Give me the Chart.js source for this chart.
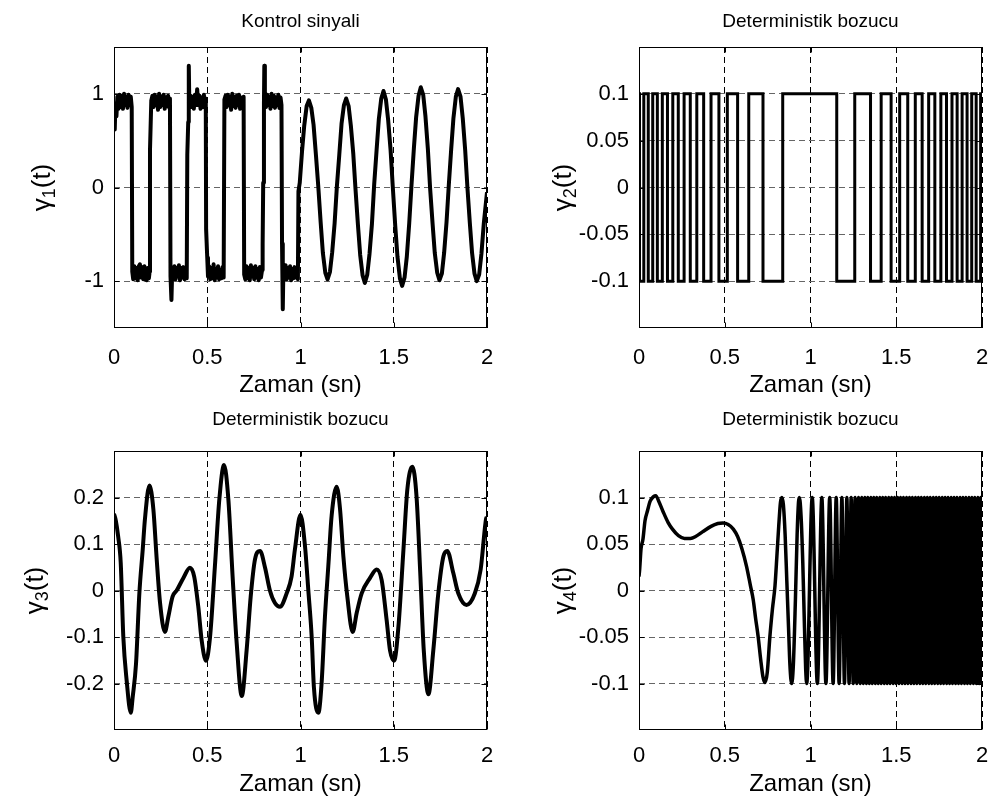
<!DOCTYPE html>
<html>
<head>
<meta charset="utf-8">
<script src="https://cdn.jsdelivr.net/npm/chart.js@4.4.1/dist/chart.umd.min.js"></script>
<style>
  html, body { margin: 0; padding: 0; background: #fff; }
  body { width: 994px; height: 809px; position: relative; overflow: hidden; }
  canvas { position: absolute; }
</style>
</head>
<body>
<canvas id="c1"></canvas>
<canvas id="c2"></canvas>
<canvas id="c3"></canvas>
<canvas id="c4"></canvas>
<script>
(function () {
    "use strict";

    // Axis text
    const xTicks = [0, 0.5, 1, 1.5, 2];
    const xTickLabels = ["0", "0.5", "1", "1.5", "2"];
    const xLabel = "Zaman (sn)";
    const titles = ["Kontrol sinyali", "Deterministik bozucu", "Deterministik bozucu", "Deterministik bozucu"];
    const yTicks1 = [-1, 0, 1];
    const yTickLabels1 = ["-1", "0", "1"];
    const yTicksSmall = [-0.1, -0.05, 0, 0.05, 0.1];
    const yTickLabelsSmall = ["-0.1", "-0.05", "0", "0.05", "0.1"];
    const yTicks3 = [-0.2, -0.1, 0, 0.1, 0.2];
    const yTickLabels3 = ["-0.2", "-0.1", "0", "0.1", "0.2"];

    // gamma1: control signal [t, value]
    const gamma1 = [
        [0.000,0.70],[0.004,0.62],[0.008,0.90],[0.013,0.76],[0.018,0.97],[0.024,0.84],[0.030,0.99],[0.036,0.86],
        [0.042,0.98],[0.048,0.84],[0.054,1.00],[0.060,0.88],[0.066,0.97],[0.072,0.85],[0.078,0.99],[0.084,0.88],
        [0.090,0.97],[0.095,0.86],
        [0.098,-0.90],[0.103,-0.98],[0.109,-0.84],[0.115,-0.97],[0.121,-0.86],[0.127,-0.99],[0.133,-0.84],[0.139,-0.82],
        [0.145,-0.96],[0.151,-0.85],[0.157,-0.98],[0.163,-0.84],[0.169,-0.95],[0.175,-0.99],[0.181,-0.86],[0.187,-0.97],
        [0.191,-0.90],
        [0.193,0.40],[0.200,0.93],[0.206,0.98],[0.212,0.86],[0.218,0.99],[0.224,0.88],[0.230,0.97],[0.236,0.83],
        [0.242,1.00],[0.248,0.86],[0.254,0.97],[0.260,0.88],[0.266,0.99],[0.272,0.84],[0.278,0.96],[0.284,0.87],
        [0.290,0.98],[0.296,0.85],[0.300,0.95],
        [0.303,-0.95],[0.308,-1.20],[0.312,-0.90],[0.318,-0.97],[0.324,-0.84],[0.330,-0.98],[0.336,-0.86],[0.342,-0.95],
        [0.348,-0.83],[0.354,-0.99],[0.360,-0.86],[0.366,-0.96],[0.372,-0.85],[0.378,-0.98],[0.384,-0.87],[0.390,-0.97],
        [0.393,0.35],[0.398,0.70],[0.401,1.30],[0.404,0.90],[0.410,0.98],[0.416,0.86],[0.422,0.97],[0.428,0.84],
        [0.434,0.99],[0.440,0.88],[0.446,1.05],[0.452,0.88],[0.458,0.98],[0.464,0.84],[0.470,0.96],[0.476,0.86],
        [0.482,0.99],[0.488,0.85],[0.492,0.95],
        [0.494,-0.45],[0.500,-0.75],[0.504,-0.95],[0.510,-0.84],[0.516,-0.98],[0.522,-0.86],[0.528,-0.97],[0.534,-0.82],
        [0.540,-0.99],[0.546,-0.87],[0.552,-0.96],[0.558,-0.84],[0.564,-0.98],[0.570,-0.88],[0.576,-0.97],[0.582,-0.85],
        [0.588,-0.96],
        [0.592,0.94],[0.598,0.98],[0.604,0.86],[0.610,0.99],[0.616,0.88],[0.622,0.97],[0.628,0.83],[0.634,1.00],
        [0.640,0.87],[0.646,0.97],[0.652,0.85],[0.658,0.98],[0.664,0.88],[0.670,0.99],[0.676,0.84],[0.682,0.96],
        [0.688,0.87],[0.695,0.97],
        [0.698,-0.93],[0.704,-0.98],[0.710,-0.84],[0.716,-0.97],[0.722,-0.86],[0.728,-0.99],[0.734,-0.83],[0.740,-0.95],
        [0.746,-0.86],[0.752,-0.98],[0.758,-0.84],[0.764,-0.96],[0.770,-0.87],[0.776,-0.99],[0.782,-0.85],[0.788,-0.96],
        [0.794,-0.88],
        [0.797,-0.60],[0.800,0.05],[0.804,0.90],[0.806,1.30],[0.809,0.95],[0.815,0.86],[0.821,0.99],[0.827,0.88],
        [0.833,0.97],[0.839,0.84],[0.845,1.00],[0.851,0.87],[0.857,0.98],[0.863,0.85],[0.869,0.96],[0.875,0.88],
        [0.881,0.99],[0.887,0.85],[0.893,0.96],[0.898,0.88],
        [0.901,-0.60],[0.905,-1.30],[0.908,-0.90],[0.914,-0.97],[0.920,-0.83],[0.926,-0.98],[0.932,-0.86],[0.938,-0.96],
        [0.944,-0.84],[0.950,-0.99],[0.956,-0.87],[0.962,-0.97],[0.968,-0.85],[0.974,-0.96],[0.980,-0.88],[0.986,-0.98],
        [0.989,-0.04],[0.996,0.05],
        [1.008,0.38],[1.020,0.66],[1.033,0.87],[1.045,0.93],[1.058,0.85],[1.070,0.67],[1.083,0.34],[1.095,0.02],
        [1.108,-0.37],[1.120,-0.70],[1.133,-0.91],[1.145,-0.98],[1.158,-0.90],[1.170,-0.69],[1.183,-0.38],[1.195,0.01],
        [1.208,0.35],[1.220,0.68],[1.233,0.88],[1.245,0.95],[1.258,0.87],[1.270,0.66],[1.283,0.36],[1.295,-0.02],
        [1.308,-0.40],[1.320,-0.72],[1.333,-0.94],[1.345,-1.02],[1.358,-0.93],[1.370,-0.71],[1.383,-0.39],[1.395,0.03],
        [1.408,0.40],[1.420,0.73],[1.433,0.95],[1.445,1.03],[1.458,0.94],[1.470,0.72],[1.483,0.40],[1.495,0.00],
        [1.508,-0.41],[1.520,-0.74],[1.533,-0.97],[1.545,-1.05],[1.558,-0.96],[1.570,-0.74],[1.583,-0.38],[1.595,0.02],
        [1.608,0.42],[1.620,0.75],[1.633,0.98],[1.645,1.07],[1.658,0.99],[1.670,0.76],[1.683,0.41],[1.695,-0.01],
        [1.708,-0.38],[1.720,-0.70],[1.733,-0.91],[1.745,-0.99],[1.758,-0.92],[1.770,-0.70],[1.783,-0.37],[1.795,0.02],
        [1.808,0.41],[1.820,0.74],[1.833,0.97],[1.845,1.05],[1.858,0.97],[1.870,0.74],[1.883,0.40],[1.895,0.00],
        [1.908,-0.38],[1.920,-0.70],[1.933,-0.92],[1.945,-1.00],[1.958,-0.93],[1.970,-0.71],[1.983,-0.38],[2.000,-0.05]
    ];

    // gamma2: switching square wave, level holds from each time onward
    const gamma2Times = [
        0.000, 0.003, 0.028, 0.054, 0.080, 0.107, 0.136, 0.166, 0.197, 0.229, 0.263,
        0.299, 0.337, 0.377, 0.420, 0.466, 0.515, 0.575, 0.640, 0.723, 0.838,
        1.153, 1.258, 1.350, 1.412, 1.470, 1.520, 1.567, 1.611, 1.651, 1.689,
        1.725, 1.760, 1.793, 1.825, 1.855, 1.884, 1.913, 1.940, 1.966, 1.992, 2.000
    ];
    const gamma2Levels = [
        0.1, -0.1, 0.1, -0.1, 0.1, -0.1, 0.1, -0.1, 0.1, -0.1, 0.1,
        -0.1, 0.1, -0.1, 0.1, -0.1, 0.1, -0.1, 0.1, -0.1, 0.1,
        -0.1, 0.1, -0.1, 0.1, -0.1, 0.1, -0.1, 0.1, -0.1, 0.1,
        -0.1, 0.1, -0.1, 0.1, -0.1, 0.1, -0.1, 0.1, -0.1, 0.1, 0.1
    ];

    // gamma3: periodic disturbance [t, value]
    const gamma3 = [
        [0.000,0.165],[0.010,0.150],[0.022,0.117],[0.036,0.060],[0.050,-0.100],[0.068,-0.194],[0.090,-0.263],
        [0.100,-0.230],[0.118,-0.158],[0.136,-0.006],[0.154,0.088],[0.166,0.154],[0.190,0.226],[0.211,0.175],
        [0.229,0.067],[0.247,-0.027],[0.273,-0.089],[0.291,-0.057],[0.314,-0.013],[0.336,0.000],[0.372,0.027],
        [0.407,0.049],[0.430,0.030],[0.452,-0.035],[0.470,-0.107],[0.493,-0.151],[0.515,-0.100],[0.541,0.052],
        [0.565,0.197],[0.590,0.270],[0.613,0.197],[0.636,0.030],[0.658,-0.114],[0.685,-0.227],[0.711,-0.129],
        [0.733,-0.013],[0.756,0.067],[0.783,0.085],[0.810,0.049],[0.836,0.000],[0.863,-0.027],[0.890,-0.035],
        [0.926,-0.006],[0.952,0.030],[0.970,0.088],[1.000,0.163],
        [1.024,0.096],[1.042,0.000],[1.060,-0.100],[1.072,-0.209],[1.096,-0.263],[1.113,-0.200],[1.131,-0.057],
        [1.149,0.052],[1.167,0.161],[1.194,0.223],[1.212,0.175],[1.230,0.073],[1.251,-0.013],[1.280,-0.089],
        [1.301,-0.049],[1.328,-0.006],[1.373,0.027],[1.408,0.045],[1.435,0.023],[1.462,-0.064],[1.480,-0.129],
        [1.502,-0.151],[1.525,-0.078],[1.552,0.088],[1.573,0.218],[1.600,0.266],[1.622,0.203],[1.643,0.030],
        [1.661,-0.129],[1.686,-0.223],[1.712,-0.129],[1.739,-0.006],[1.766,0.073],[1.787,0.085],[1.819,0.038],
        [1.846,-0.006],[1.890,-0.031],[1.935,-0.006],[1.966,0.045],[1.995,0.154],[2.000,0.158]
    ];

    // gamma4: chirp-like disturbance [t, value]
    const gamma4 = [
        [0.000,0.015],[0.004,0.023],[0.012,0.045],[0.023,0.055],[0.035,0.075],[0.050,0.086],[0.065,0.096],
        [0.085,0.101],[0.098,0.102],[0.115,0.096],[0.140,0.085],[0.170,0.073],[0.195,0.066],[0.230,0.059],
        [0.265,0.056],[0.300,0.056],[0.330,0.058],[0.370,0.063],[0.420,0.069],[0.460,0.072],[0.490,0.0725],
        [0.520,0.071],[0.550,0.066],[0.575,0.058],[0.600,0.045],[0.627,0.026],[0.650,0.005],[0.666,-0.010],
        [0.680,-0.030],[0.695,-0.050],[0.710,-0.075],[0.722,-0.092],[0.734,-0.099],[0.748,-0.088],[0.763,-0.050],
        [0.778,-0.020],[0.793,0.005],[0.805,0.040],[0.815,0.070],[0.825,0.095],[0.833,0.100],[0.842,0.092],
        [0.852,0.060],[0.862,0.010],[0.872,-0.040],[0.880,-0.080],[0.890,-0.100],[0.900,-0.080],[0.912,-0.010],
        [0.922,0.060],[0.930,0.095],[0.935,0.100],[0.945,0.080],[0.955,0.030],[0.965,-0.040],[0.972,-0.085],
        [0.978,-0.100],[1.010,0.100],[1.040,-0.100],[1.066,0.100],[1.090,-0.100],[1.112,0.100],[1.132,-0.100],
        [1.150,0.100],[1.167,-0.100],[1.183,0.100],[1.198,-0.100],[1.212,0.100],[1.225,-0.100],[1.237,0.100],
        [1.249,-0.100],[1.260,0.100],[1.270,-0.100],[1.280,0.100],[1.290,-0.100],[1.299,0.100],[1.308,-0.100],
        [1.317,0.1],[1.326,-0.1],[1.334,0.1],[1.343,-0.1],[1.352,0.1],[1.360,-0.1],[1.369,0.1],[1.378,-0.1],
        [1.386,0.1],[1.395,-0.1],[1.404,0.1],[1.412,-0.1],[1.421,0.1],[1.430,-0.1],[1.438,0.1],[1.447,-0.1],
        [1.456,0.1],[1.464,-0.1],[1.473,0.1],[1.482,-0.1],[1.490,0.1],[1.499,-0.1],[1.508,0.1],[1.516,-0.1],
        [1.525,0.1],[1.534,-0.1],[1.542,0.1],[1.551,-0.1],[1.560,0.1],[1.568,-0.1],[1.577,0.1],[1.586,-0.1],
        [1.594,0.1],[1.603,-0.1],[1.612,0.1],[1.620,-0.1],[1.629,0.1],[1.638,-0.1],[1.646,0.1],[1.655,-0.1],
        [1.664,0.1],[1.672,-0.1],[1.681,0.1],[1.690,-0.1],[1.698,0.1],[1.707,-0.1],[1.716,0.1],[1.724,-0.1],
        [1.733,0.1],[1.742,-0.1],[1.750,0.1],[1.759,-0.1],[1.768,0.1],[1.776,-0.1],[1.785,0.1],[1.794,-0.1],
        [1.802,0.1],[1.811,-0.1],[1.820,0.1],[1.828,-0.1],[1.837,0.1],[1.846,-0.1],[1.854,0.1],[1.863,-0.1],
        [1.872,0.1],[1.880,-0.1],[1.889,0.1],[1.898,-0.1],[1.906,0.1],[1.915,-0.1],[1.924,0.1],[1.932,-0.1],
        [1.941,0.1],[1.950,-0.1],[1.958,0.1],[1.967,-0.1],[1.976,0.1],[1.984,-0.1],[1.993,0.1],[2.000,0.0]
    ];

    const FONT = "'Liberation Sans', Arial, sans-serif";
    const TICK_SIZE = 22;
    const TITLE_SIZE = 19;
    const LABEL_SIZE = 24;

    // Frame with inward ticks, like the original axes box
    const boxPlugin = {
        id: "box",
        afterDatasetsDraw(chart) {
            const { ctx, chartArea: a, scales } = chart;
            const l = Math.round(a.left) + 0.5, t = Math.round(a.top) + 0.5;
            const r = Math.round(a.right) - 0.5, b = Math.round(a.bottom) - 0.5;
            ctx.save();
            ctx.strokeStyle = "#000";
            ctx.lineWidth = 1;
            ctx.setLineDash([]);
            ctx.strokeRect(l, t, r - l, b - t);
            ctx.beginPath();
            scales.x.ticks.forEach((tk) => {
                const px = Math.round(scales.x.getPixelForValue(tk.value)) + 0.5;
                ctx.moveTo(px, b); ctx.lineTo(px, b - 5);
                ctx.moveTo(px, t); ctx.lineTo(px, t + 5);
            });
            scales.y.ticks.forEach((tk) => {
                const py = Math.round(scales.y.getPixelForValue(tk.value)) + 0.5;
                ctx.moveTo(l, py); ctx.lineTo(l + 5, py);
                ctx.moveTo(r, py); ctx.lineTo(r - 5, py);
            });
            ctx.stroke();
            ctx.restore();
        },
    };

    // Rotated y label with a subscript: gamma_n(t)
    function yLabelPlugin(baseX, sub) {
        return {
            id: "ylabel",
            afterDraw(chart) {
                const { ctx, chartArea: a } = chart;
                const big = "26px " + FONT, small = "18px " + FONT;
                ctx.save();
                ctx.translate(baseX, (a.top + a.bottom) / 2);
                ctx.rotate(-Math.PI / 2);
                ctx.fillStyle = "#000";
                ctx.textBaseline = "alphabetic";
                ctx.textAlign = "left";
                ctx.font = big;
                const w1 = ctx.measureText("γ").width;
                const w3 = ctx.measureText("(t)").width;
                ctx.font = small;
                const w2 = ctx.measureText(sub).width;
                let u = -(w1 + w2 + w3) / 2;
                ctx.font = big;
                ctx.fillText("γ", u, 0);
                u += w1;
                ctx.font = small;
                ctx.fillText(sub, u, 5);
                u += w2;
                ctx.font = big;
                ctx.fillText("(t)", u, 0);
                ctx.restore();
            },
        };
    }

    function makePanel(p) {
        const cv = document.getElementById(p.id);
        cv.width = p.w;
        cv.height = p.h;
        cv.style.left = p.x + "px";
        cv.style.top = p.y + "px";
        const lhTitle = TITLE_SIZE * 1.2, lhTick = TICK_SIZE * 1.2, lhLabel = LABEL_SIZE * 1.2;
        const titleTop = p.titleY - p.y - lhTitle / 2;
        const chart = new Chart(cv, {
            type: "line",
            data: {
                datasets: [
                    {
                        data: p.points,
                        borderColor: "#000",
                        borderWidth: p.lw,
                        pointRadius: 0,
                        fill: false,
                        stepped: p.stepped || false,
                        cubicInterpolationMode: p.smooth ? "monotone" : "default",
                        borderJoinStyle: p.join,
                    },
                ],
            },
            options: {
                responsive: false,
                animation: false,
                events: [],
                layout: {
                    padding: { left: 0, top: 0, bottom: 0, right: p.x + p.w - p.plot.r },
                },
                plugins: {
                    legend: { display: false },
                    tooltip: { enabled: false },
                    title: {
                        display: true,
                        fullSize: false,
                        text: p.title,
                        color: "#000",
                        font: { family: FONT, size: TITLE_SIZE, lineHeight: 1.2, weight: "normal" },
                        padding: { top: titleTop, bottom: p.plot.t - p.y - titleTop - lhTitle },
                    },
                },
                scales: {
                    x: {
                        type: "linear",
                        min: 0,
                        max: 2,
                        afterFit: (s) => {
                            s.height = p.y + p.h - p.plot.b;
                            s.paddingLeft = 0;
                            s.paddingRight = 0;
                        },
                        afterBuildTicks: (s) => { s.ticks = xTicks.map((v) => ({ value: v })); },
                        ticks: {
                            autoSkip: false,
                            maxRotation: 0,
                            color: "#000",
                            font: { family: FONT, size: TICK_SIZE, lineHeight: 1.2 },
                            padding: p.tickY - p.plot.b - lhTick / 2,
                            callback: (v, i) => xTickLabels[i],
                        },
                        grid: { color: "#000", lineWidth: 1, drawTicks: false },
                        border: { display: false, dash: [6, 4] },
                        title: {
                            display: true,
                            text: xLabel,
                            color: "#000",
                            font: { family: FONT, size: LABEL_SIZE, lineHeight: 1.2 },
                            padding: { top: 0, bottom: Math.max(0, p.y + p.h - p.xlabY - lhLabel / 2) },
                        },
                    },
                    y: {
                        type: "linear",
                        min: p.yMin,
                        max: p.yMax,
                        afterFit: (s) => {
                            s.width = p.plot.l - p.x;
                            s.paddingTop = 0;
                            s.paddingBottom = 0;
                        },
                        afterBuildTicks: (s) => { s.ticks = p.yTicks.map((v) => ({ value: v })); },
                        ticks: {
                            autoSkip: false,
                            color: "#000",
                            font: { family: FONT, size: TICK_SIZE, lineHeight: 1.2 },
                            padding: 10,
                            callback: (v, i) => p.yTickLabels[i],
                        },
                        grid: { color: "#666", lineWidth: 1, drawTicks: false },
                        border: { display: false, dash: [6, 4] },
                    },
                },
            },
            plugins: [boxPlugin, yLabelPlugin(p.ylabBase - p.x, p.sub)],
        });

        // Nudge the right padding so the plot box lands where the original has it
        const dr = chart.chartArea.right - (p.plot.r - p.x);
        if (Math.abs(dr) > 0.5) {
            chart.options.layout.padding.right += dr;
            chart.update();
        }
        return chart;
    }

    const toXY = (pairs) => pairs.map((d) => ({ x: d[0], y: d[1] }));

    makePanel({
        id: "c1", x: 0, y: 0, w: 497, h: 402,
        plot: { l: 114, t: 47, r: 487, b: 328 },
        titleY: 22, tickY: 358, xlabY: 385, ylabBase: 50,
        title: titles[0], sub: "1",
        yMin: -1.5, yMax: 1.5, yTicks: yTicks1, yTickLabels: yTickLabels1,
        points: toXY(gamma1), lw: 4, join: "round",
    });

    makePanel({
        id: "c2", x: 497, y: 0, w: 497, h: 402,
        plot: { l: 639, t: 47, r: 982, b: 328 },
        titleY: 22, tickY: 358, xlabY: 385, ylabBase: 571,
        title: titles[1], sub: "2",
        yMin: -0.15, yMax: 0.15, yTicks: yTicksSmall, yTickLabels: yTickLabelsSmall,
        points: gamma2Times.map((t, i) => ({ x: t, y: gamma2Levels[i] })),
        lw: 3, join: "miter", stepped: true,
    });

    makePanel({
        id: "c3", x: 0, y: 402, w: 497, h: 407,
        plot: { l: 114, t: 451, r: 487, b: 730 },
        titleY: 420, tickY: 756, xlabY: 784, ylabBase: 43,
        title: titles[2], sub: "3",
        yMin: -0.3, yMax: 0.3, yTicks: yTicks3, yTickLabels: yTickLabels3,
        points: toXY(gamma3), lw: 4, join: "round", smooth: true,
    });

    makePanel({
        id: "c4", x: 497, y: 402, w: 497, h: 407,
        plot: { l: 639, t: 451, r: 982, b: 730 },
        titleY: 420, tickY: 756, xlabY: 784, ylabBase: 571,
        title: titles[3], sub: "4",
        yMin: -0.15, yMax: 0.15, yTicks: yTicksSmall, yTickLabels: yTickLabelsSmall,
        points: toXY(gamma4), lw: 3.5, join: "round", smooth: true,
    });
})();
</script>
</body>
</html>
